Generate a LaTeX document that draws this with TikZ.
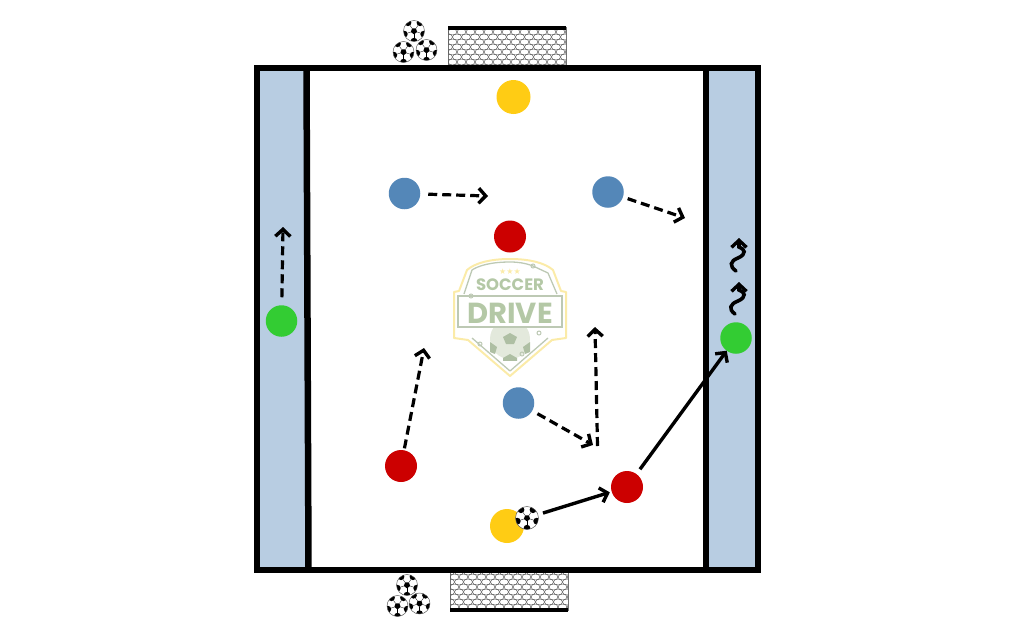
\documentclass[tikz,border=0pt]{standalone}
\usepackage{fontspec}
\setmainfont{Poppins}
\usetikzlibrary{arrows.meta,shapes.geometric,calc}
\definecolor{sidefill}{HTML}{B8CDE2}
\definecolor{pyellow}{HTML}{FFCC14}
\definecolor{pblue}{HTML}{5487B8}
\definecolor{pred}{HTML}{CC0000}
\definecolor{pgreen}{HTML}{33CC33}
\definecolor{logogreen}{HTML}{B4C8A6}
\definecolor{logoline}{HTML}{BDC9B4}
\definecolor{logoyellow}{HTML}{FBEBA8}
\definecolor{logoball}{HTML}{E3E9DC}
\definecolor{logodark}{HTML}{AEBFA3}
\tikzset{
  x=1pt,y=-1pt,
  player/.style={circle,fill=#1,minimum size=31.5,inner sep=0,draw=none,outer sep=0},
  barb/.style={-{Straight Barb[length=7,width=15,line width=3.4]}},
  pass/.style={barb,line width=3.4,black},
  run/.style={barb,line width=3.2,black,dash pattern=on 9 off 5},
  wiggle/.style={barb,line width=3.6,black,line cap=round},
  netbox/.style={draw=black!55,line width=.8,inner sep=0,minimum width=118,minimum height=39},
  ballnode/.style={circle,draw=black!70,line width=.45,fill=white,minimum size=21,inner sep=0,
    path picture={
      \begin{scope}[shift={(path picture bounding box.center)},rotate=#1]
        \fill[black] (90:3.3)--(162:3.3)--(234:3.3)--(306:3.3)--(18:3.3)--cycle;
        \foreach \a in {18,90,162,234,306}{
          \fill[black] (\a:10.2) circle (3.4);
          \draw[black,line width=.3] (\a:3.3)--(\a:7);
        }
      \end{scope}
    }},
  ballnode/.default=12,
}
\newcommand{\netfill}[4]{% x0 y0 x1 y1
  \begin{scope}
    \clip (#1,#2) rectangle (#3,#4);
    \foreach \r in {0,...,8}{
      \pgfmathsetmacro{\yy}{#2+\r*5.0}
      \pgfmathsetmacro{\off}{mod(\r,2)*4.5}
      \foreach \c in {-1,...,13}{
        \pgfmathsetmacro{\xx}{#1+\c*9+\off}
        \draw[black!65,line width=.45] (\xx,\yy) ellipse [x radius=4.5,y radius=3];
      }
    }
  \end{scope}
}
\begin{document}
\begin{tikzpicture}
\useasboundingbox (0,0) rectangle (1019,637);
% logo
\draw[logoyellow,line width=2,line join=round] (510,259) .. controls (530,259) and (545,263) .. (553,270) -- (561,291) -- (566,292) -- (566,338) -- (552,340) -- (510,376) -- (468,340) -- (454,338) -- (454,292) -- (459,291) -- (467,270) .. controls (475,263) and (490,259) .. (510,259) -- cycle;
\begin{scope}
  \clip (480,328) rectangle (540,360);
  \fill[logoball] (510,339) circle (20);
  \fill[logodark] (510,333) -- (517,337) -- (514,344) -- (506,344) -- (503,337) -- cycle;
  \fill[logodark] (490,342) -- (497,347) -- (495,354) -- (490,352) -- cycle;
  \fill[logodark] (530,342) -- (523,347) -- (525,354) -- (530,352) -- cycle;
  \fill[logodark] (503,358) -- (510,354) -- (517,358) -- (517,361) -- (503,361) -- cycle;
\end{scope}
\draw[logoline,line width=1.3,line join=round] (533,266) .. controls (525,263) and (518,262) .. (510,262) .. controls (490,262) and (478,266) .. (472,270) -- (464,294);
\draw[logoline,line width=1.3] (533,266) -- (548,273) -- (557,294);
\draw[logoline,line width=1.3] (471,296) -- (458,296) -- (458,327) -- (562,327) -- (562,296) -- (471,296);
\draw[logoline,line width=1.3,line join=round] (472,338) -- (510,371) -- (548,338);
\draw[logoline,line width=1] (471,296) circle (2) (533,266) circle (2) (539,333) circle (2) (480,344) circle (2) (522,354) circle (2);
\node[logogreen,font=\fontsize{16.5}{17}\selectfont\bfseries,inner sep=0] (soccer) at (510,285) {SOCCER};
\node[logogreen,font=\fontsize{29}{30}\selectfont\bfseries,inner sep=0] (drive) at (510,313) {DRIVE};
\node[logoyellow,font=\fontsize{8}{8}\selectfont,inner sep=0] (stars) at (510,271.5) {\fontspec{DejaVu Sans}★★★};
% side areas
\fill[sidefill] (257,68) rectangle (307,570);
\fill[sidefill] (706,68) rectangle (758,570);
% goals
\node[netbox,anchor=north west] (goalT) at (448,27) {};
\netfill{448}{27}{566}{65}
\draw[black,line width=4] (448,27.5) -- (566,27.5);
\node[netbox,anchor=north west] (goalB) at (450,571) {};
\netfill{450}{572}{568}{609}
\draw[black,line width=4] (450,609.5) -- (568,609.5);
% field
\draw[black,line width=6] (257,68) rectangle (758,570);
\draw[black,line width=6.5] (306.5,68) -- (308.5,570);
\draw[black,line width=6.5] (706,68) -- (706,570);
% spare balls
\node[ballnode=10] (b1) at (414,31) {};
\node[ballnode=40] (b2) at (403.5,52) {};
\node[ballnode=-20] (b3) at (426.5,50) {};
\node[ballnode=10] (b4) at (407,585) {};
\node[ballnode=40] (b5) at (397.5,606) {};
\node[ballnode=-20] (b6) at (419.5,603.5) {};
% players
\node[player=pyellow,minimum size=34] (y1) at (513.5,97) {};
\node[player=pblue] (bl1) at (404.5,193.5) {};
\node[player=pblue] (bl2) at (608,192) {};
\node[player=pred,minimum size=32] (r1) at (510,236.5) {};
\node[player=pgreen] (g1) at (281.5,321) {};
\node[player=pgreen] (g2) at (736,338) {};
\node[player=pblue] (bl3) at (518.5,403) {};
\node[player=pred,minimum size=32] (r2) at (401,466) {};
\node[player=pred,minimum size=32] (r3) at (627,487) {};
\node[player=pyellow,minimum size=34] (y2) at (507,526) {};
\node[ballnode=20,minimum size=23] (bm) at (527,518) {};
% free ends
\coordinate (e1) at (488,196);
\coordinate (e2) at (685,218);
\coordinate (e3) at (283,227);
\coordinate (e4) at (424,348);
\coordinate (e5) at (593,445);
\coordinate (s6) at (597.5,446);
\coordinate (e6) at (595,327);
% runs
\draw[run,shorten <=8] (bl1) -- (e1);
\draw[run,shorten <=5] (bl2) -- (e2);
\draw[run,shorten <=8] (g1) -- (e3);
\draw[run,shorten <=2] (r2) -- (e4);
\draw[run,shorten <=6] (bl3) -- (e5);
\draw[run] (s6) -- (e6);
% passes
\draw[pass,shorten <=5,shorten >=2] (bm) -- (r3);
\draw[pass,shorten <=6] (r3) -- (g2);
% dribble
\coordinate (w1s) at (736,271);
\coordinate (w1e) at (739,238);
\coordinate (w2s) at (735,314);
\coordinate (w2e) at (739,282);
\draw[wiggle] (w1s) .. controls (729,266) and (730,261) .. (738,258) .. controls (747,254) and (745,249) .. (739,247) -- (w1e);
\draw[wiggle] (w2s) .. controls (728,309) and (730,304) .. (738,301) .. controls (747,297) and (745,292) .. (739,290) -- (w2e);
\end{tikzpicture}
\end{document}
